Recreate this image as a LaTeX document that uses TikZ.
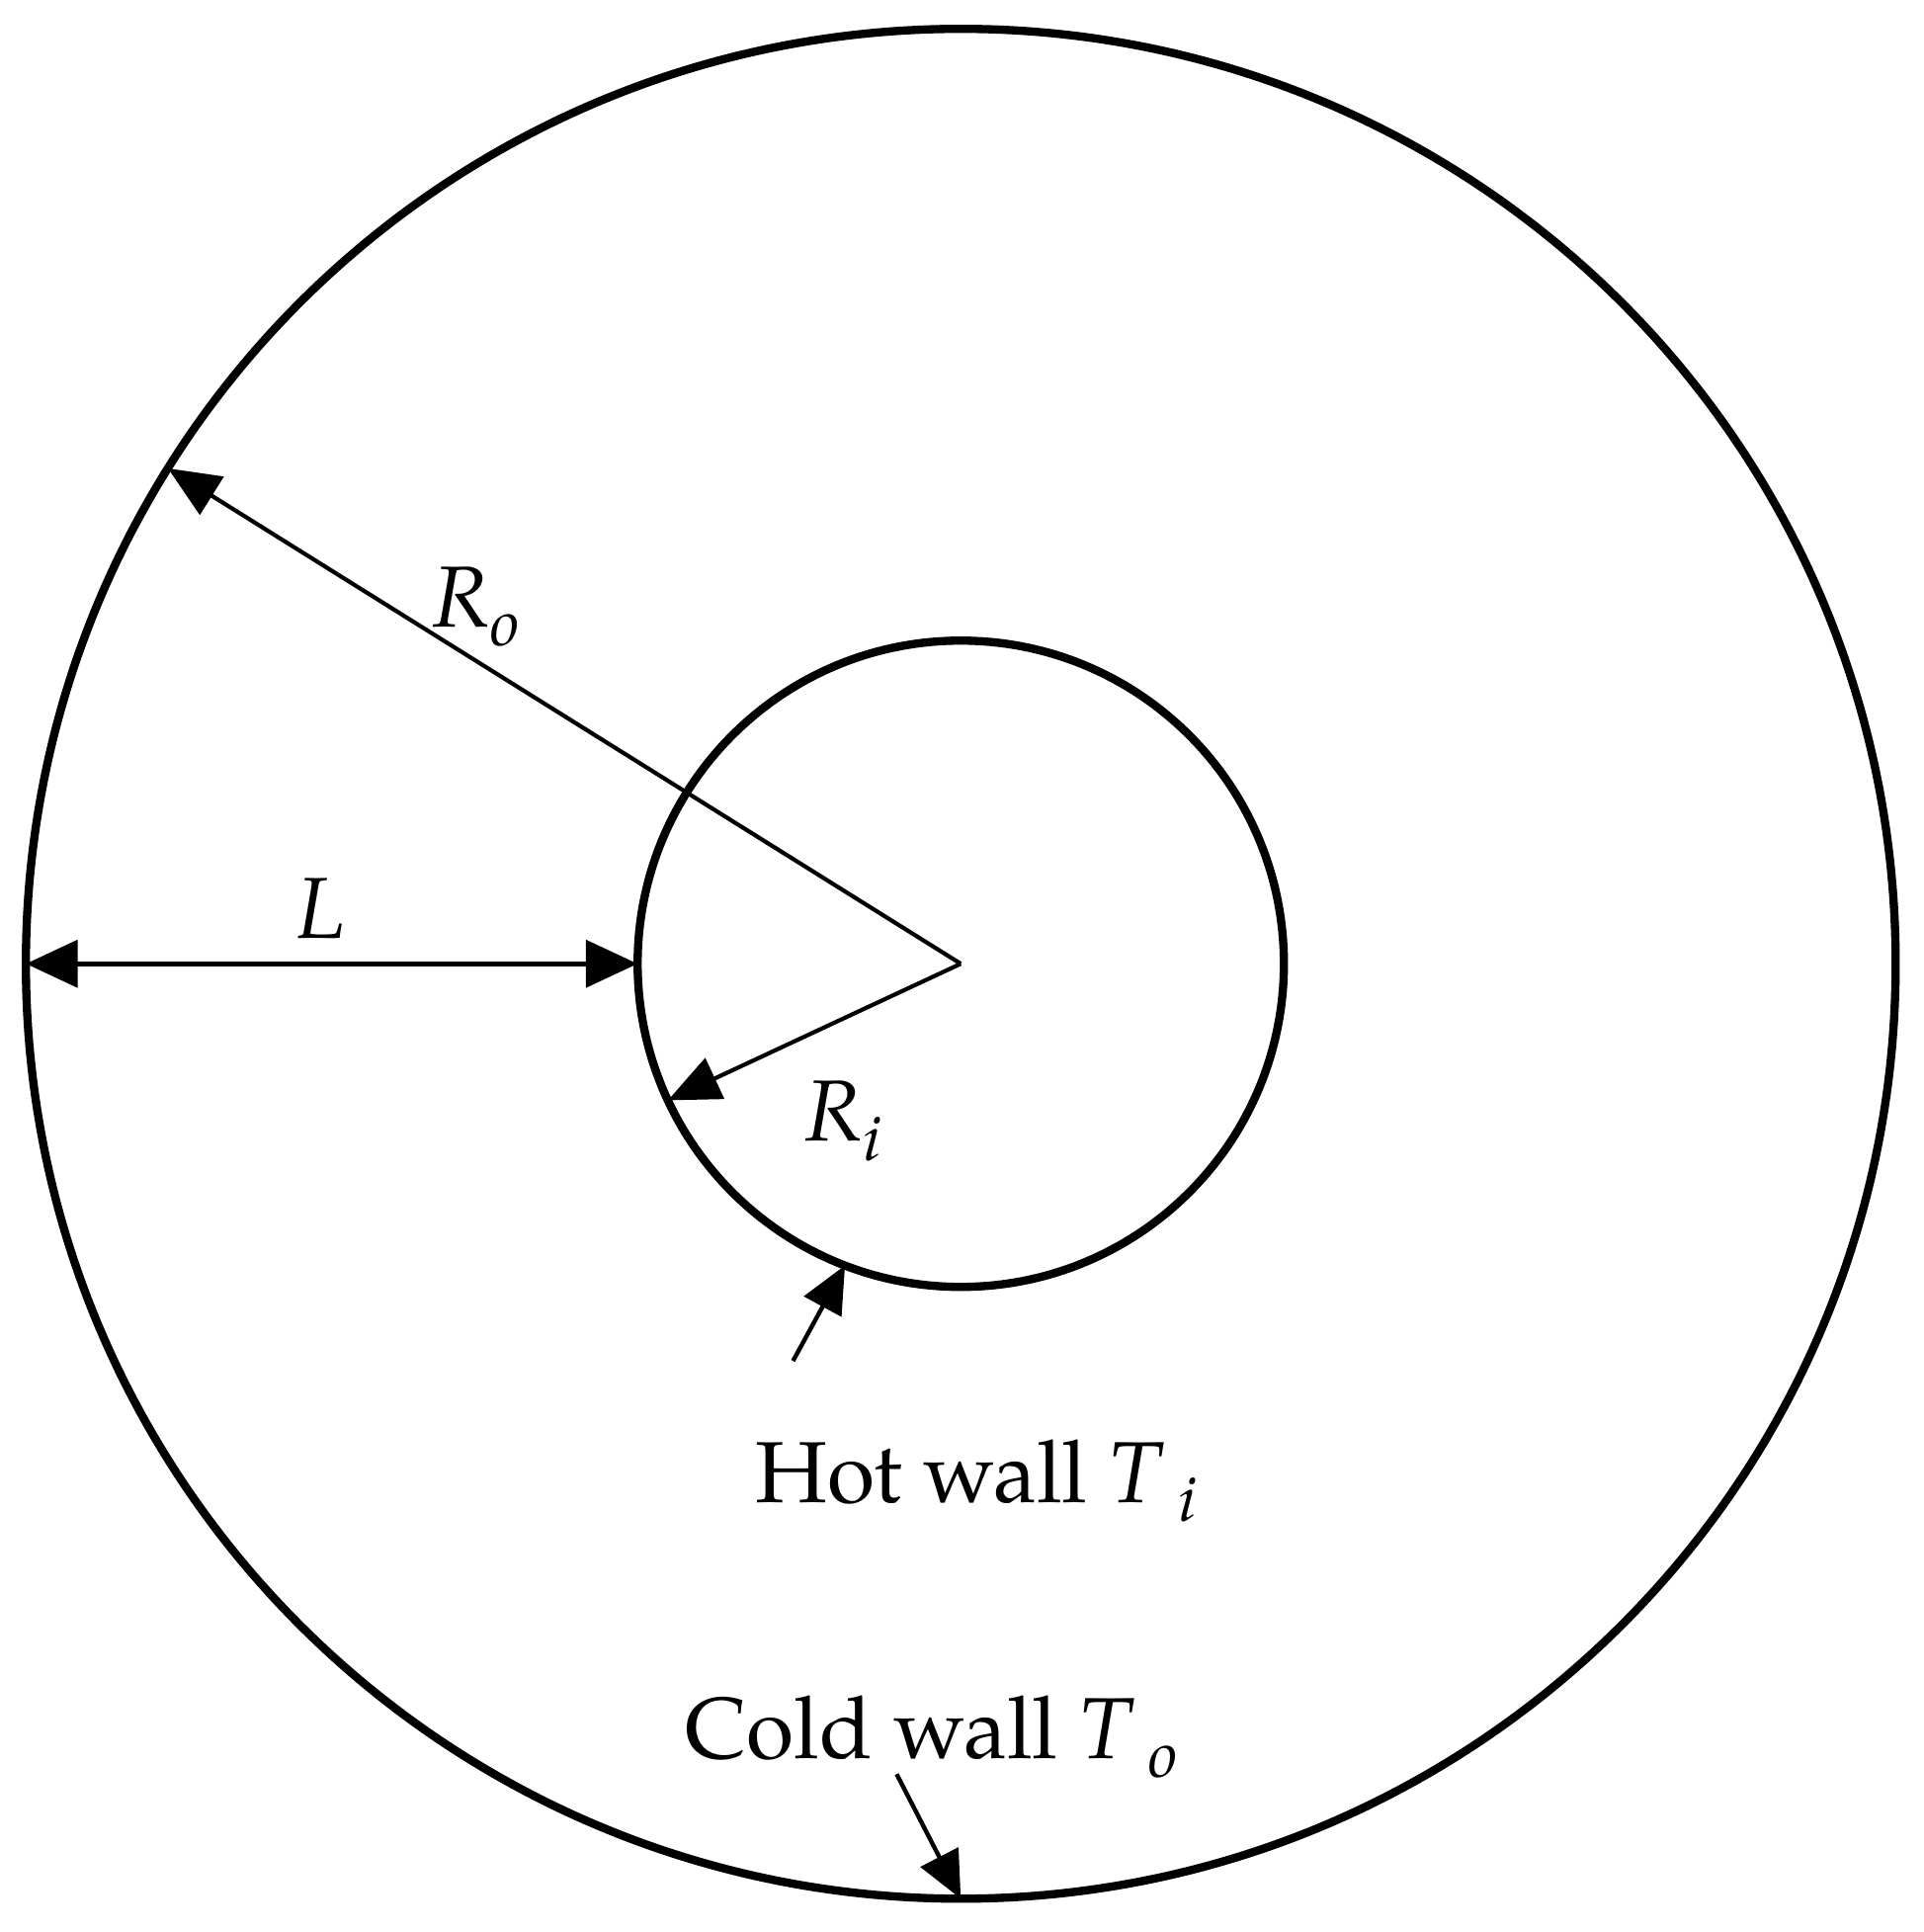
\documentclass[tikz,border=0pt]{standalone}
\usepackage{fontspec}
\setmainfont{TeX Gyre Pagella}
\usetikzlibrary{arrows.meta}
\newcommand{\lbsub}[1]{\raisebox{-0.22em}{\fontsize{15}{15}\selectfont\itshape #1}}
\begin{document}
\begin{tikzpicture}[
  wall/.style={circle, draw, line width=1.9pt, inner sep=0pt, outer sep=0pt},
  radius line/.style={line width=0.95pt, -{Triangle[length=0.42cm, width=0.36cm]}},
  dim line/.style={line width=1.25pt, {Triangle[length=0.42cm, width=0.38cm]}-{Triangle[length=0.42cm, width=0.38cm]}},
  pointer/.style={line width=1pt, -{Triangle[length=0.38cm, width=0.34cm]}},
  lab/.style={inner sep=0pt, anchor=base west, font=\fontsize{20}{24}\selectfont}
]
\useasboundingbox (0,0) rectangle (15.60,15.664);
\coordinate (C) at (7.79,7.85);
\node[wall, minimum size=15.16cm] (outer) at (C) {};
\node[wall, minimum size=5.24cm] (inner) at (C) {};
% radii
\draw[radius line] (C) -- (outer.148.5);
\draw[radius line] (C) -- (inner.205);
% gap
\draw[dim line] (outer.180) -- (inner.180);
% wall pointers
\coordinate (hotfoot) at (6.43,4.63);
\coordinate (coldfoot) at (7.27,1.28);
\draw[pointer] (hotfoot) -- (inner.249);
\draw[pointer] (coldfoot) -- (outer.270);
% labels
\node[lab] (Ro) at (3.50,10.58) {\textit{R}\lbsub{o}};
\node[lab] (Lg) at (2.40,8.06) {\textit{L}};
\node[lab] (Ri) at (6.52,6.41) {\textit{R}\lbsub{i}};
\node[lab] (hot) at (6.12,3.48) {Hot wall \textit{T}\,\lbsub{i}};
\node[lab] (cold) at (5.55,1.41) {Cold wall \textit{T}\,\lbsub{o}};
\end{tikzpicture}
\end{document}
